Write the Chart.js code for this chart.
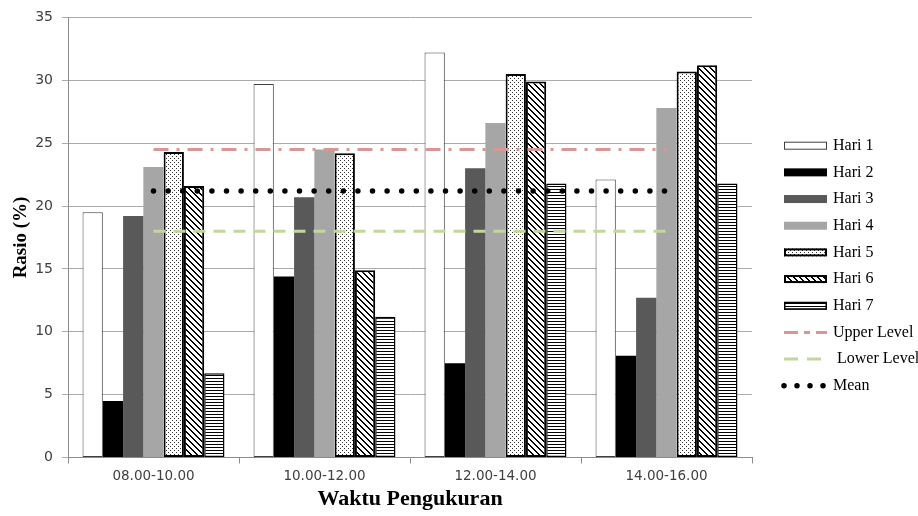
<!DOCTYPE html>
<html>
<head>
<meta charset="utf-8">
<title>Rasio per Waktu Pengukuran</title>
<script src="https://cdn.jsdelivr.net/npm/chart.js@4.4.1/dist/chart.umd.min.js"></script>
<style>
  html, body { margin: 0; padding: 0; background: #fff; }
  #wrap { width: 918px; height: 516px; }
</style>
</head>
<body>
<div id="wrap"><canvas id="rasioChart" width="918" height="516"></canvas></div>
<script>
// Data
const categories = ['08.00-10.00', '10.00-12.00', '12.00-14.00', '14.00-16.00'];
const hari1 = [19.5, 29.7, 32.2, 22.1];
const hari2 = [4.5, 14.4, 7.5, 8.1];
const hari3 = [19.2, 20.7, 23.0, 12.7];
const hari4 = [23.1, 24.5, 26.6, 27.8];
const hari5 = [24.3, 24.2, 30.5, 30.7];
const hari6 = [21.6, 14.9, 29.9, 31.2];
const hari7 = [6.7, 11.2, 21.8, 21.8];
const upperLevel = [24.5, 24.5, 24.5, 24.5];
const lowerLevel = [18.0, 18.0, 18.0, 18.0];
const meanLevel = [21.2, 21.2, 21.2, 21.2];
const yMin = 0, yMax = 35, yStep = 5;

// small fill patterns like the Excel ones
function makePattern(kind) {
    const c = document.createElement('canvas');
    const g = c.getContext('2d');
    if (kind === 'dots') {
        c.width = 4; c.height = 4;
        g.fillStyle = '#fff'; g.fillRect(0, 0, 4, 4);
        g.fillStyle = '#333';
        g.fillRect(0, 0, 1, 1);
        g.fillRect(2, 2, 1, 1);
    } else if (kind === 'diagonal') {
        c.width = 6; c.height = 6;
        g.fillStyle = '#fff'; g.fillRect(0, 0, 6, 6);
        g.fillStyle = '#000';
        for (let y = 0; y < 6; y++) {
            for (let k = 0; k < 2; k++) g.fillRect((y + k) % 6, y, 1, 1);
        }
    } else if (kind === 'horizontal') {
        c.width = 4; c.height = 3;
        g.fillStyle = '#fff'; g.fillRect(0, 0, 4, 3);
        g.fillStyle = '#000'; g.fillRect(0, 0, 4, 1);
    }
    return g.createPattern(c, 'repeat');
}

function barSet(label, data, fill, border, width) {
    return {
        type: 'bar',
        label: label,
        data: data,
        backgroundColor: fill,
        borderColor: border,
        borderWidth: width,
        borderSkipped: false,
        order: 1
    };
}

function lineSet(label, data, color, width, dash, cap, legendDash) {
    return {
        type: 'line',
        label: label,
        data: data,
        borderColor: color,
        borderWidth: width,
        borderDash: dash,
        borderCapStyle: cap,
        legendDash: legendDash,
        pointRadius: 0,
        fill: false,
        order: 0
    };
}

const datasets = [
    barSet('Hari 1', hari1, '#ffffff', '#404040', 1),
    barSet('Hari 2', hari2, '#000000', '#000000', 0),
    barSet('Hari 3', hari3, '#595959', '#595959', 0),
    barSet('Hari 4', hari4, '#a6a6a6', '#a6a6a6', 0),
    barSet('Hari 5', hari5, makePattern('dots'), '#000000', 2),
    barSet('Hari 6', hari6, makePattern('diagonal'), '#000000', 2),
    barSet('Hari 7', hari7, makePattern('horizontal'), '#000000', 1.5),
    lineSet('Upper Level', upperLevel, '#d99694', 3, [15, 8, 3, 8], 'butt', [14, 6, 6, 6]),
    lineSet(' Lower Level', lowerLevel, '#c3d69b', 3, [12, 8], 'butt', [14, 9]),
    lineSet('Mean', meanLevel, '#000000', 5.5, [0, 14.6], 'round', [0, 13])
];

// legend on the right, drawn by hand so line items look like lines
const sideLegend = {
    id: 'sideLegend',
    afterDraw(chart) {
        const ctx = chart.ctx;
        chart.data.datasets.forEach((ds, i) => {
            const y = 145.7 + i * 26.67;
            ctx.save();
            if (ds.type === 'line') {
                ctx.strokeStyle = ds.borderColor;
                ctx.lineWidth = ds.borderWidth;
                ctx.lineCap = ds.borderCapStyle;
                ctx.setLineDash(ds.legendDash);
                ctx.beginPath();
                ctx.moveTo(784, y);
                ctx.lineTo(827, y);
                ctx.stroke();
            } else {
                ctx.fillStyle = ds.backgroundColor;
                ctx.fillRect(784, y - 4, 43, 8);
                if (ds.borderWidth) {
                    const bw = ds.borderWidth;
                    ctx.strokeStyle = ds.borderColor;
                    ctx.lineWidth = bw;
                    ctx.strokeRect(784 + bw / 2, y - 4 + bw / 2, 43 - bw, 8 - bw);
                }
            }
            ctx.setLineDash([]);
            ctx.fillStyle = '#000';
            ctx.font = '16px "Liberation Serif"';
            ctx.textBaseline = 'middle';
            ctx.textAlign = 'left';
            ctx.fillText(ds.label, 833, y);
            ctx.restore();
        });
    }
};

const ctx = document.getElementById('rasioChart');
const rasioChart = new Chart(ctx, {
    type: 'bar',
    data: { labels: categories, datasets: datasets },
    plugins: [sideLegend],
    options: {
        responsive: false,
        animation: false,
        devicePixelRatio: 1,
        layout: { padding: { top: 16, right: 166, left: 0, bottom: 0 } },
        datasets: {
            bar: { categoryPercentage: 0.83, barPercentage: 1.0 }
        },
        plugins: {
            legend: { display: false },
            tooltip: { enabled: false }
        },
        scales: {
            x: {
                grid: { display: true, drawOnChartArea: false, drawTicks: true, tickLength: 6, color: '#8c8c8c' },
                border: { display: true, color: '#8c8c8c' },
                ticks: { color: '#404040', padding: 5, font: { family: 'DejaVu Sans', size: 13.5 } },
                title: {
                    display: true,
                    text: 'Waktu Pengukuran',
                    color: '#000',
                    font: { family: 'Liberation Serif', size: 22, weight: 'bold' },
                    padding: { top: 0, bottom: 3 }
                },
                afterFit(scale) { scale.height = 58.5; }
            },
            y: {
                min: yMin,
                max: yMax,
                ticks: { stepSize: yStep, color: '#404040', padding: 9, font: { family: 'DejaVu Sans', size: 14 } },
                grid: { color: '#ababab', tickLength: 6 },
                border: { display: true, color: '#8c8c8c' },
                title: {
                    display: true,
                    text: 'Rasio (%)',
                    color: '#000',
                    font: { family: 'Liberation Serif', size: 19, weight: 'bold' },
                    padding: { top: 10, bottom: 0 }
                },
                afterFit(scale) { scale.width = 68; }
            }
        }
    }
});
</script>
</body>
</html>
